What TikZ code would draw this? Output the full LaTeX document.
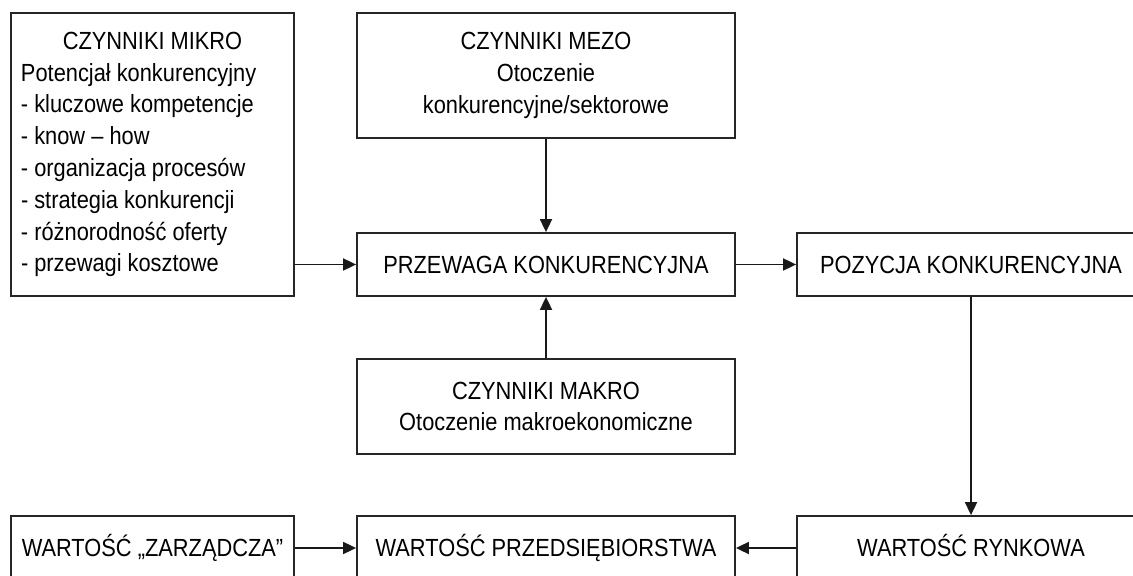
\documentclass[tikz,border=0pt]{standalone}
\usepackage{fontspec}
\setmainfont{Liberation Sans}[FakeStretch=0.88]
\usetikzlibrary{arrows.meta, positioning}

\begin{document}
\begin{tikzpicture}[x=0.5pt, y=-0.5pt, >={Triangle[length=6.5pt, width=6pt]},
  font=\fontsize{12.4}{15.9}\selectfont,
  box/.style={draw=black!85, line width=0.9pt, rectangle, inner sep=0pt,
    minimum width=189pt, minimum height=31.5pt, align=center},
  oneline/.style={box, text height=8.9pt, text depth=0pt},
  link/.style={->, line width=0.9pt, draw=black!90}]
  % ramka obrazu
  \useasboundingbox (0,0) rectangle (1133,576);
  \clip (0,0) rectangle (1133,576);
  % czynniki
  \node[box, minimum width=141.5pt, minimum height=141.5pt, text width=131.5pt, align=flush left]
    (mikro) at (152.5,154.5) {\makebox[\hsize]{CZYNNIKI MIKRO}\\
      Potencjał konkurencyjny\\
      - kluczowe kompetencje\\
      - know – how\\
      - organizacja procesów\\
      - strategia konkurencji\\
      - różnorodność oferty\\
      - przewagi kosztowe};
  \node[box, minimum height=62.5pt] (mezo) at (546,75.5)
    {CZYNNIKI MEZO\\ Otoczenie\\ konkurencyjne/sektorowe};
  \node[oneline] (przewaga) at (546,264.5) {PRZEWAGA KONKURENCYJNA};
  \node[box, minimum height=47.5pt] (makro) at (546,406.5)
    {CZYNNIKI MAKRO\\ Otoczenie makroekonomiczne};
  \node[oneline, minimum width=174pt] (pozycja) at (971,264.5) {POZYCJA KONKURENCYJNA};
  % wartosci
  \node[oneline, minimum width=141.5pt, minimum height=32pt] (zarzadcza) at (152.5,548)
    {WARTOŚĆ „ZARZĄDCZA”};
  \node[oneline, minimum height=32pt] (przedsieb) at (546,548) {WARTOŚĆ PRZEDSIĘBIORSTWA};
  \node[oneline, minimum width=174pt, minimum height=32pt] (rynkowa) at (971,548)
    {WARTOŚĆ RYNKOWA};
  % strzalki
  \draw[link] (mikro.east |- przewaga.west) -- (przewaga.west);
  \draw[link] (mezo.south) -- (przewaga.north);
  \draw[link] (makro.north) -- (przewaga.south);
  \draw[link] (przewaga.east) -- (pozycja.west);
  \draw[link] (pozycja.south) -- (rynkowa.north);
  \draw[link] (zarzadcza.east) -- (przedsieb.west);
  \draw[link] (rynkowa.west) -- (przedsieb.east);
\end{tikzpicture}
\end{document}
